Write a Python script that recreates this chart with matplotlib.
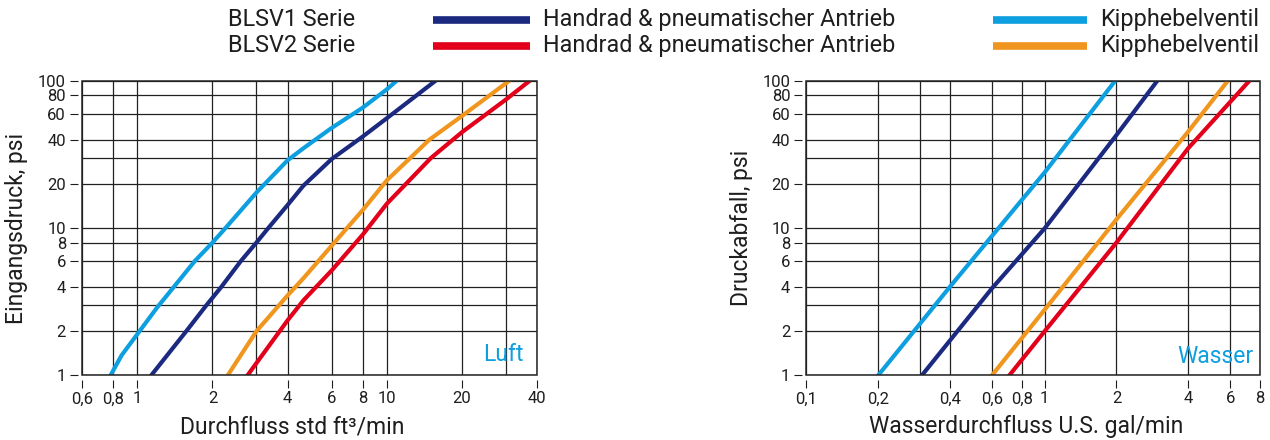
import numpy as np
import matplotlib
matplotlib.use("Agg")
import matplotlib.pyplot as plt
from matplotlib.lines import Line2D
from matplotlib.patches import Rectangle
from matplotlib.ticker import FixedLocator, FixedFormatter, NullFormatter

plt.rcParams['font.family'] = ['Roboto', 'DejaVu Sans']

# colours
c_navy = "#1b2a80"
c_red = "#e2001a"
c_lblue = "#0d9fdf"
c_orange = "#f0961e"
c_text = "#1e1e1e"

# --- Luft (air) chart ---
air_lblue_x = [0.78, 0.864, 1.02, 1.2, 1.4, 1.7, 2.0, 2.25, 3.0, 4.0, 4.63, 6.0, 8.0, 10.0, 10.9]
air_lblue_y = [1, 1.37, 2, 2.9, 4, 6, 8, 10, 17.5, 29, 35, 48, 66, 88, 100]
air_navy_x = [1.135, 1.57, 1.89, 2.17, 2.6, 3.0, 3.34, 4.0, 4.63, 6.0, 8.0, 10.0, 15.6]
air_navy_y = [1, 2, 3, 4, 6, 8, 10, 14.4, 19.5, 29.5, 42, 56, 100]
air_orange_x = [2.3, 3.0, 4.0, 4.63, 6.0, 8.0, 10.0, 14.8, 20.0, 30.8]
air_orange_y = [1, 2, 3.5, 4.58, 7.6, 13.3, 21.2, 40, 58, 100]
air_red_x = [2.76, 4.0, 4.63, 6.0, 8.0, 10.0, 15.0, 20.0, 30.0, 37.2]
air_red_y = [1, 2.37, 3.24, 5.16, 9.05, 14.7, 30, 45, 75, 100]

air_xticks = [0.6, 0.8, 1, 2, 4, 6, 8, 10, 20, 40]
air_xlabels = ["0,6", "0,8", "1", "2", "4", "6", "8", "10", "20", "40"]
air_xgrid_extra = [3, 30]

# --- Wasser (water) chart ---
wat_lblue_x = [0.2, 0.4, 1.0, 1.97]
wat_lblue_y = [1, 4, 24, 100]
wat_navy_x = [0.305, 0.6, 1.0, 2.0, 2.96]
wat_navy_y = [1, 3.9, 10, 43, 100]
wat_orange_x = [0.6, 1.0, 2.0, 4.0, 5.85]
wat_orange_y = [1, 2.8, 11.5, 45.4, 100]
wat_red_x = [0.71, 1.0, 2.0, 4.0, 7.2]
wat_red_y = [1, 2, 8, 35, 100]

wat_xticks = [0.1, 0.2, 0.4, 0.6, 0.8, 1, 2, 4, 6, 8]
wat_xlabels = ["0,1", "0,2", "0,4", "0,6", "0,8", "1", "2", "4", "6", "8"]
wat_xgrid_extra = [0.3]

yticks = [1, 2, 4, 6, 8, 10, 20, 40, 60, 80, 100]
ylabels = ["1", "2", "4", "6", "8", "10", "20", "40", "60", "80", "100"]
ygrid_extra = [3, 30]


def setup_axes(ax, xlim, xticks, xlabels, xextra, xlabel, ylabel, xlabel_pos):
    ax.set_xscale('log')
    ax.set_yscale('log')
    ax.set_xlim(*xlim)
    ax.set_ylim(1, 100)
    ax.xaxis.set_major_locator(FixedLocator(xticks))
    ax.xaxis.set_major_formatter(FixedFormatter(xlabels))
    ax.xaxis.set_minor_locator(FixedLocator(xextra))
    ax.xaxis.set_minor_formatter(NullFormatter())
    ax.yaxis.set_major_locator(FixedLocator(yticks))
    ax.yaxis.set_major_formatter(FixedFormatter(ylabels))
    ax.yaxis.set_minor_locator(FixedLocator(ygrid_extra))
    ax.yaxis.set_minor_formatter(NullFormatter())
    ax.grid(True, which='both', color='#222222', lw=0.9)
    ax.tick_params(which='major', direction='out', length=6, width=0.8,
                   labelsize=12, pad=2.5, colors=c_text)
    ax.tick_params(which='minor', length=0)
    for s in ['left', 'bottom']:
        ax.spines[s].set_position(('outward', 3))
        ax.spines[s].set_visible(False)
    for s in ['top', 'right']:
        ax.spines[s].set_visible(False)
    ax.add_patch(Rectangle((0, 0), 1, 1, transform=ax.transAxes, fill=False,
                           lw=1.1, ec='#222222', clip_on=False, zorder=3))
    ax.set_xlabel(xlabel, fontsize=16.5, color=c_text)
    ax.xaxis.set_label_coords(xlabel_pos, -0.135)
    ax.set_ylabel(ylabel, fontsize=16.5, color=c_text, labelpad=7)


fig = plt.figure(figsize=(12.7, 4.4), dpi=100)
ax1 = fig.add_axes([0.0646, 0.1466, 0.3583, 0.669])
ax2 = fig.add_axes([0.6349, 0.1466, 0.3572, 0.669])

lw = 3
ax1.plot(air_lblue_x, air_lblue_y, color=c_lblue, lw=lw)
ax1.plot(air_navy_x, air_navy_y, color=c_navy, lw=lw)
ax1.plot(air_orange_x, air_orange_y, color=c_orange, lw=lw)
ax1.plot(air_red_x, air_red_y, color=c_red, lw=lw)
setup_axes(ax1, (0.6, 40), air_xticks, air_xlabels, air_xgrid_extra,
           "Durchfluss std ft³/min", "Eingangsdruck, psi", 0.462)
ax1.text(0.971, 0.048, "Luft", transform=ax1.transAxes, ha='right', va='baseline',
         fontsize=16.5, color=c_lblue, zorder=4)

ax2.plot(wat_lblue_x, wat_lblue_y, color=c_lblue, lw=lw)
ax2.plot(wat_navy_x, wat_navy_y, color=c_navy, lw=lw)
ax2.plot(wat_orange_x, wat_orange_y, color=c_orange, lw=lw)
ax2.plot(wat_red_x, wat_red_y, color=c_red, lw=lw)
setup_axes(ax2, (0.1, 8), wat_xticks, wat_xlabels, wat_xgrid_extra,
           "Wasserdurchfluss U.S. gal/min", "Druckabfall, psi", 0.485)
ax2.text(0.985, 0.043, "Wasser", transform=ax2.transAxes, ha='right', va='baseline',
         fontsize=16.5, color=c_lblue, zorder=4)

# legend drawn by hand across the top
rows = [("BLSV1 Serie", c_navy, c_lblue, 0.955), ("BLSV2 Serie", c_red, c_orange, 0.896)]
for name, ca, cb, yy in rows:
    fig.text(0.1795, yy, name, fontsize=16.8, va='center', color=c_text)
    fig.add_artist(Line2D([0.341, 0.4173], [yy, yy], color=ca, lw=5.5, solid_capstyle='butt'))
    fig.text(0.4276, yy, "Handrad & pneumatischer Antrieb", fontsize=16.8, va='center', color=c_text)
    fig.add_artist(Line2D([0.7819, 0.8559], [yy, yy], color=cb, lw=5.5, solid_capstyle='butt'))
    fig.text(0.8661, yy, "Kipphebelventil", fontsize=16.8, va='center', color=c_text)

fig.savefig("out.png", dpi=100)
